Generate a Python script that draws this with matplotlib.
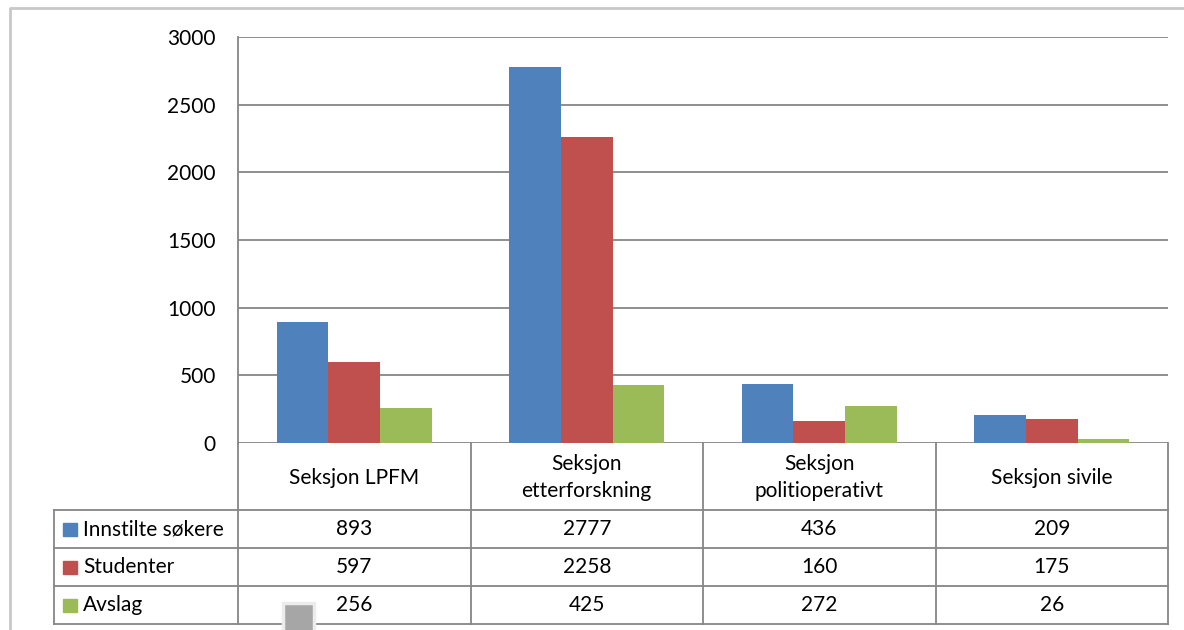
import matplotlib.pyplot as plt
import matplotlib.patches as patches

plt.rcParams['font.family'] = ['Lato', 'DejaVu Sans']

# Data
categories = ['Seksjon LPFM', 'Seksjon\netterforskning', 'Seksjon\npolitioperativt', 'Seksjon sivile']
series_names = ['Innstilte søkere', 'Studenter', 'Avslag']
innstilte = [893, 2777, 436, 209]
studenter = [597, 2258, 160, 175]
avslag = [256, 425, 272, 26]
series_values = [innstilte, studenter, avslag]
colors = ['#4F81BD', '#C0504D', '#9BBB59']
yticks = [0, 500, 1000, 1500, 2000, 2500, 3000]

W, H = 1184, 630
fs = 15
fig = plt.figure(figsize=(W / 100, H / 100), dpi=100)

# overlay in pixel coordinates for the frame and the data table
ov = fig.add_axes([0, 0, 1, 1])
ov.set_xlim(0, W)
ov.set_ylim(H, 0)
ov.axis('off')

# plot area geometry (pixels)
px0, px1 = 238, 1168
py_top, py_bot = 37, 443

ax = fig.add_axes([px0 / W, (H - py_bot) / H, (px1 - px0) / W, (py_bot - py_top) / H])
ax.set_zorder(2)
ax.patch.set_alpha(0)
n = len(categories)
bw = 0.2225
for i, (vals, c) in enumerate(zip(series_values, colors)):
    xs = [k + 0.5 + (i - 1) * bw for k in range(n)]
    ax.bar(xs, vals, width=bw, color=c, zorder=3)
ax.set_xlim(0, n)
ax.set_ylim(0, 3000)
ax.set_yticks(yticks)
ax.set_yticklabels([str(t) for t in yticks], fontsize=fs)
ax.tick_params(axis='y', length=0, pad=16)
ax.set_xticks([])
ax.grid(axis='y', color='#868686', linewidth=1.3, zorder=0)
for s in ['top', 'right', 'bottom']:
    ax.spines[s].set_visible(False)
ax.spines['left'].set_color('#868686')
ax.spines['left'].set_linewidth(1.3)

# outer frame
ov.plot([10, 10, W], [H, 8, 8], color='#c8c8c8', linewidth=2)

# data table
line_kw = dict(color='#868686', linewidth=1.3)
col_x = [px0 + (px1 - px0) * k / n for k in range(n + 1)]
rows_y = [py_bot, 510, 548, 586, 624]
leg_x = 54
for x in col_x:
    ov.plot([x, x], [rows_y[0], rows_y[-1]], **line_kw)
ov.plot([leg_x, leg_x], [rows_y[1], rows_y[-1]], **line_kw)
for y in rows_y[1:]:
    ov.plot([leg_x, px1], [y, y], **line_kw)

for k, cat in enumerate(categories):
    cx = (col_x[k] + col_x[k + 1]) / 2
    ov.text(cx, (rows_y[0] + rows_y[1]) / 2 + 1, cat, ha='center', va='center',
            fontsize=fs, linespacing=1.45)

for r, (name, vals, c) in enumerate(zip(series_names, series_values, colors)):
    cy = (rows_y[r + 1] + rows_y[r + 2]) / 2
    ov.add_patch(patches.Rectangle((63, cy - 6.5), 13.5, 13.5, color=c))
    ov.text(83, cy, name, ha='left', va='center', fontsize=fs)
    for k, v in enumerate(vals):
        cx = (col_x[k] + col_x[k + 1]) / 2
        ov.text(cx, cy, str(v), ha='center', va='center', fontsize=fs)

# small grey handle at the bottom edge
ov.add_patch(patches.Rectangle((283, 603), 31, 30, facecolor='#a6a6a6',
                               edgecolor='#ececec', linewidth=2.5, zorder=5))

fig.savefig('out.png', dpi=100)
